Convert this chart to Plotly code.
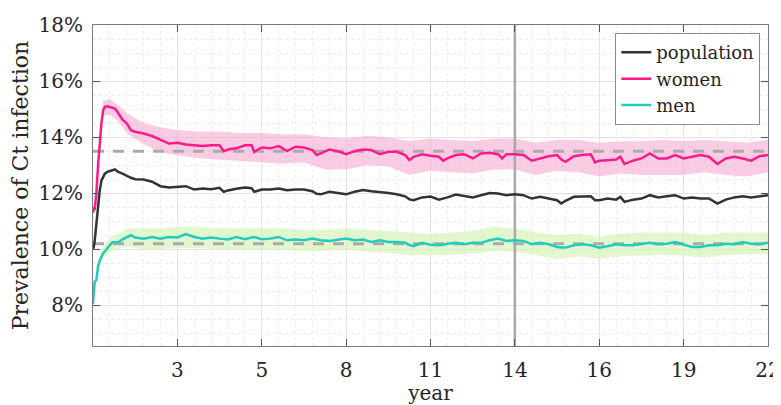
import plotly.graph_objects as go

# ---------------- data (x in days, values in %) ----------------
days = [0, 10, 20, 40, 60, 80, 100, 120, 140, 170, 200, 230, 260, 300, 350, 400, 450, 500,
        600, 700, 800, 900, 1000, 1100, 1200, 1300, 1400, 1500, 1550, 1600, 1700, 1800, 1880, 1910,
        2000, 2100, 2200, 2300, 2400, 2500, 2600, 2650, 2700, 2800, 2900, 3000, 3100, 3200, 3300,
        3400, 3500, 3600, 3700, 3750, 3800, 3900, 4000, 4100, 4150, 4200, 4300, 4400, 4500, 4600,
        4700, 4800, 4850, 4900, 5000, 5100, 5200, 5300, 5400, 5500, 5550, 5600, 5700, 5800, 5900,
        5950, 6000, 6100, 6200, 6250, 6300, 6400, 6500, 6600, 6700, 6800, 6900, 7000, 7100, 7200,
        7300, 7400, 7500, 7600, 7700, 7800, 7900, 8000]

women = [11.3, 11.5, 11.4, 12.0, 13.0, 13.9, 14.5, 14.95, 15.08, 15.1, 15.08, 15.05, 15.02, 14.85, 14.62, 14.49, 14.25, 14.19,
         14.13, 14.04, 13.89, 13.77, 13.8, 13.74, 13.71, 13.68, 13.71, 13.71, 13.5, 13.56, 13.6, 13.71, 13.71, 13.48,
         13.63, 13.6, 13.68, 13.5, 13.66, 13.63, 13.54, 13.36, 13.42, 13.56, 13.5, 13.39, 13.5, 13.56, 13.54,
         13.39, 13.48, 13.48, 13.36, 13.18, 13.3, 13.39, 13.34, 13.3, 13.16, 13.24, 13.36, 13.39, 13.24, 13.42,
         13.44, 13.39, 13.24, 13.39, 13.39, 13.36, 13.16, 13.24, 13.32, 13.36, 13.2, 13.12, 13.32, 13.36, 13.39,
         13.1, 13.16, 13.18, 13.2, 13.3, 13.04, 13.16, 13.24, 13.42, 13.24, 13.24, 13.36, 13.24, 13.3, 13.36,
         13.3, 13.04, 13.24, 13.3, 13.24, 13.16, 13.32, 13.36]

population = [10.0, 10.1, 10.3, 11.0, 11.6, 12.1, 12.45, 12.6, 12.7, 12.76, 12.8, 12.82, 12.85, 12.76, 12.7, 12.61, 12.55, 12.5,
              12.49, 12.41, 12.25, 12.2, 12.23, 12.25, 12.13, 12.17, 12.14, 12.19, 12.05, 12.1, 12.16, 12.2, 12.18, 12.05,
              12.13, 12.13, 12.17, 12.11, 12.13, 12.13, 12.07, 11.98, 11.96, 12.05, 12.01, 11.96, 12.05, 12.11, 12.07,
              12.05, 12.01, 11.96, 11.89, 11.78, 11.75, 11.85, 11.88, 11.77, 11.8, 11.85, 11.95, 11.89, 11.85, 11.93,
              12.01, 11.99, 11.95, 11.93, 11.96, 11.93, 11.81, 11.87, 11.81, 11.75, 11.63, 11.73, 11.87, 11.87, 11.89,
              11.75, 11.75, 11.81, 11.77, 11.87, 11.69, 11.77, 11.81, 11.93, 11.85, 11.89, 11.93, 11.81, 11.85, 11.81,
              11.81, 11.63, 11.77, 11.85, 11.89, 11.85, 11.89, 11.93]

men = [8.05, 8.75, 8.85, 8.9, 9.4, 9.6, 9.75, 9.85, 9.92, 10.05, 10.15, 10.25, 10.26, 10.26, 10.35, 10.44, 10.5, 10.42,
       10.38, 10.44, 10.38, 10.44, 10.42, 10.54, 10.44, 10.38, 10.42, 10.38, 10.36, 10.35, 10.44, 10.36, 10.42, 10.44,
       10.36, 10.38, 10.44, 10.32, 10.35, 10.32, 10.38, 10.35, 10.32, 10.3, 10.35, 10.38, 10.32, 10.35, 10.26,
       10.32, 10.26, 10.26, 10.23, 10.15, 10.11, 10.23, 10.16, 10.14, 10.16, 10.2, 10.23, 10.18, 10.23, 10.23,
       10.32, 10.38, 10.34, 10.3, 10.32, 10.3, 10.18, 10.23, 10.18, 10.08, 10.06, 10.06, 10.14, 10.18, 10.14,
       10.1, 10.06, 10.11, 10.18, 10.16, 10.14, 10.14, 10.18, 10.23, 10.18, 10.2, 10.26, 10.18, 10.08, 10.08,
       10.14, 10.14, 10.2, 10.18, 10.26, 10.2, 10.18, 10.23]

band_days = [0, 40, 80, 120, 200, 300, 400, 600, 800, 1000, 1250, 1500, 1750, 2000, 2250, 2500, 2750, 3000,
             3250, 3500, 3750, 4000, 4250, 4500, 4750, 5000, 5250, 5500, 5750, 6000, 6250, 6500, 6750, 7000,
             7250, 7500, 7750, 8000]
women_hi = [11.4, 12.2, 14.3, 15.3, 15.35, 15.15, 14.85, 14.5, 14.35, 14.25, 14.2, 14.2, 14.15, 14.15, 14.1, 14.1, 14.0, 13.95,
            14.05, 14.0, 13.85, 13.95, 13.9, 13.85, 13.95, 13.95, 13.8, 13.9, 13.9, 13.8, 13.85, 13.85, 13.9, 13.85,
            13.9, 13.85, 13.8, 13.9]
women_lo = [11.2, 11.8, 13.7, 14.75, 14.8, 14.55, 14.15, 13.75, 13.45, 13.35, 13.25, 13.2, 13.15, 13.1, 13.05, 13.1, 12.85, 12.85,
            13.0, 12.95, 12.65, 12.8, 12.75, 12.7, 12.85, 12.85, 12.65, 12.8, 12.75, 12.6, 12.7, 12.65, 12.65, 12.65,
            12.75, 12.65, 12.6, 12.75]
men_hi = [8.1, 9.0, 9.8, 10.1, 10.4, 10.55, 10.75, 10.75, 10.75, 10.8, 10.8, 10.75, 10.75, 10.75, 10.75, 10.7, 10.7, 10.75,
          10.7, 10.65, 10.6, 10.55, 10.6, 10.65, 10.8, 10.75, 10.6, 10.5, 10.55, 10.45, 10.55, 10.6, 10.6, 10.6,
          10.5, 10.6, 10.6, 10.6]
men_lo = [8.0, 8.8, 9.45, 9.65, 9.9, 10.0, 10.1, 10.0, 10.0, 10.05, 10.05, 10.0, 10.0, 10.0, 10.0, 9.95, 9.95, 10.0,
          9.92, 9.88, 9.8, 9.78, 9.82, 9.85, 9.95, 9.92, 9.8, 9.65, 9.75, 9.65, 9.75, 9.78, 9.8, 9.78,
          9.7, 9.8, 9.82, 9.85]

ref_women = 13.5
ref_men = 10.2
marker_day = 5000
x_span = [0, 8000]
y_span = [6.55, 18]

tick_days = [1000, 2000, 3000, 4000, 5000, 6000, 7000, 8000]
tick_labels = ['3', '5', '8', '11', '14', '16', '19', '22']
y_ticks = [8, 10, 12, 14, 16, 18]
y_tick_labels = ['8%', '10%', '12%', '14%', '16%', '18%']

# ---------------- styles ----------------
C_POP = '#333333'
C_WOMEN = '#FF1A8C'
C_MEN = '#22CBBE'
C_WBAND = 'rgba(247, 170, 210, 0.6)'
C_MBAND = 'rgba(210, 242, 180, 0.65)'
C_REF = '#AAAAAA'
FONT = 'DejaVu Serif'
TXT = '#262626'

fig = go.Figure()

fig.add_trace(go.Scatter(x=band_days + band_days[::-1], y=women_hi + women_lo[::-1],
                         fill='toself', fillcolor=C_WBAND, line=dict(width=0),
                         mode='lines', showlegend=False, hoverinfo='skip'))
fig.add_trace(go.Scatter(x=band_days + band_days[::-1], y=men_hi + men_lo[::-1],
                         fill='toself', fillcolor=C_MBAND, line=dict(width=0),
                         mode='lines', showlegend=False, hoverinfo='skip'))

fig.add_trace(go.Scatter(x=x_span, y=[ref_women, ref_women], mode='lines',
                         line=dict(color=C_REF, width=3, dash='11px,9px'), showlegend=False))
fig.add_trace(go.Scatter(x=x_span, y=[ref_men, ref_men], mode='lines',
                         line=dict(color=C_REF, width=3, dash='11px,9px'), showlegend=False))
fig.add_trace(go.Scatter(x=[marker_day, marker_day], y=y_span, mode='lines',
                         line=dict(color='#A8A8A8', width=2.5), showlegend=False))

fig.add_trace(go.Scatter(x=days, y=population, mode='lines', name='population',
                         line=dict(color=C_POP, width=2.5)))
fig.add_trace(go.Scatter(x=days, y=women, mode='lines', name='women',
                         line=dict(color=C_WOMEN, width=2.5)))
fig.add_trace(go.Scatter(x=days, y=men, mode='lines', name='men',
                         line=dict(color=C_MEN, width=2.5)))

# the page body has an 8px margin, so the figure is sized to fit the 781x405 window
fig.update_layout(
    width=773, height=397,
    margin=dict(l=85, r=13, t=17, b=59),
    paper_bgcolor='white', plot_bgcolor='white',
    font=dict(family=FONT, size=20, color=TXT),
    legend=dict(x=0.9886, y=0.975, xanchor='right', yanchor='top',
                bgcolor='white', bordercolor='#8c8c8c', borderwidth=1,
                font=dict(family=FONT, size=18, color=TXT),
                tracegroupgap=0, itemwidth=30),
)

fig.update_xaxes(
    range=x_span, tickvals=tick_days, ticktext=tick_labels,
    ticks='inside', ticklen=7, tickcolor='#555555',
    showline=True, linecolor='#7a7a7a', linewidth=1, mirror='ticks',
    showgrid=True, gridcolor='#E3E3E3', gridwidth=1,
    minor=dict(dtick=200, tick0=0, showgrid=True, gridcolor='#ECECEC', griddash='dot', ticks=''),
    zeroline=False, automargin=False,
    title=dict(text='year', font=dict(family=FONT, size=20, color=TXT), standoff=7),
    tickfont=dict(family=FONT, size=20, color=TXT),
    ticklabelstandoff=6,
)
fig.update_yaxes(
    range=y_span, tickvals=y_ticks, ticktext=y_tick_labels,
    ticks='inside', ticklen=7, tickcolor='#555555',
    showline=True, linecolor='#7a7a7a', linewidth=1, mirror='ticks',
    showgrid=True, gridcolor='#E3E3E3', gridwidth=1,
    minor=dict(dtick=0.5, tick0=0, showgrid=True, gridcolor='#ECECEC', griddash='dot', ticks=''),
    zeroline=False, automargin=False,
    title=dict(text='Prevalence of Ct infection', font=dict(family=FONT, size=22, color=TXT), standoff=3),
    tickfont=dict(family=FONT, size=20, color=TXT),
    ticklabelstandoff=5,
)

fig.write_html('out.html')
